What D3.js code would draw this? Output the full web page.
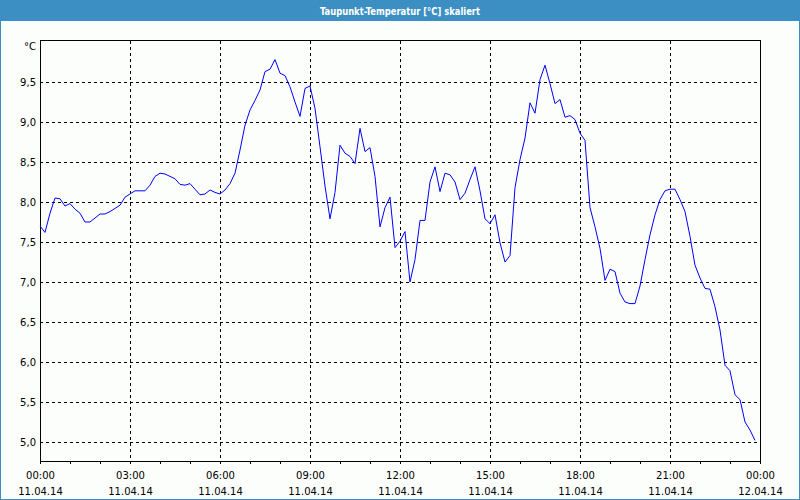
<!DOCTYPE html>
<html>
<head>
<meta charset="utf-8">
<script src="https://cdn.jsdelivr.net/npm/d3@7"></script>
<style>
  html, body { margin: 0; padding: 0; background: #fcfefc; }
  svg { display: block; }
</style>
</head>
<body>
<svg id="chart" width="800" height="500"></svg>
<script>
// ---- data ----
const chartTitle = "Taupunkt-Temperatur [°C] skaliert";
const unitLabel = "°C";
const startTime = "2014-04-11T00:00:00Z";
const stepMinutes = 10;
// dew point values, one every 10 minutes from 00:00 to 23:50
const dewPoint = [
  7.70, 7.62, 7.86, 8.05, 8.04, 7.95, 7.98, 7.91, 7.86, 7.75,
  7.75, 7.80, 7.85, 7.85, 7.88, 7.92, 7.96, 8.06, 8.10, 8.14,
  8.14, 8.14, 8.21, 8.32, 8.36, 8.35, 8.32, 8.29, 8.22, 8.21,
  8.23, 8.16, 8.09, 8.10, 8.15, 8.12, 8.10, 8.15, 8.23, 8.36,
  8.65, 8.96, 9.15, 9.27, 9.40, 9.63, 9.66, 9.78, 9.61, 9.58,
  9.44, 9.25, 9.07, 9.42, 9.45, 9.17, 8.69, 8.20, 7.79, 8.12,
  8.71, 8.61, 8.57, 8.48, 8.92, 8.63, 8.68, 8.32, 7.69, 7.93,
  8.06, 7.43, 7.51, 7.63, 7.00, 7.28, 7.77, 7.77, 8.25, 8.44,
  8.13, 8.36, 8.34, 8.25, 8.03, 8.11, 8.28, 8.44, 8.14, 7.79,
  7.73, 7.84, 7.49, 7.25, 7.33, 8.18, 8.53, 8.80, 9.24, 9.11,
  9.53, 9.71, 9.48, 9.23, 9.28, 9.06, 9.08, 9.03, 8.86, 8.77,
  7.93, 7.69, 7.42, 7.02, 7.16, 7.13, 6.86, 6.75, 6.73, 6.73,
  6.95, 7.28, 7.59, 7.84, 8.03, 8.14, 8.16, 8.16, 8.03, 7.88,
  7.57, 7.21, 7.05, 6.92, 6.91, 6.69, 6.40, 5.96, 5.89, 5.59,
  5.53, 5.25, 5.15, 5.02
];
const yTicks = [5.0, 5.5, 6.0, 6.5, 7.0, 7.5, 8.0, 8.5, 9.0, 9.5];
const xTickHours = [0, 3, 6, 9, 12, 15, 18, 21, 24];
const xTimeLabels = ["00:00", "03:00", "06:00", "09:00", "12:00", "15:00", "18:00", "21:00", "00:00"];
const xDateLabels = ["11.04.14", "11.04.14", "11.04.14", "11.04.14", "11.04.14", "11.04.14", "11.04.14", "11.04.14", "12.04.14"];

// ---- layout ----
const W = 800, H = 500;
const plot = { left: 40, right: 760, top: 41, bottom: 461 };
const font = "'DejaVu Sans', Verdana, sans-serif";

const svg = d3.select("#chart");
const t0 = new Date(startTime);
const t1 = d3.utcHour.offset(t0, 24);

const x = d3.scaleUtc().domain([t0, t1]).range([plot.left, plot.right]);
const y = d3.scaleLinear().domain([4.7625, 10.0125]).range([plot.bottom, plot.top]);

const data = dewPoint.map((v, i) => ({ t: d3.utcMinute.offset(t0, i * stepMinutes), v }));

// background
svg.append("rect").attr("x", 0).attr("y", 0).attr("width", W).attr("height", H).attr("fill", "#fcfefc");

// title bar
svg.append("rect").attr("x", 0).attr("y", 0).attr("width", W).attr("height", 21).attr("fill", "#3c8fc3");
const title = svg.append("text")
  .attr("x", 400).attr("y", 14.5)
  .attr("text-anchor", "middle")
  .attr("fill", "#ffffff")
  .attr("font-family", "'DejaVu Sans Condensed', 'Liberation Sans Narrow', 'DejaVu Sans', sans-serif")
  .attr("font-weight", "bold")
  .attr("font-size", "11px")
  .text(chartTitle);
const tl = title.node().getComputedTextLength();
if (Math.abs(tl - 160) > 6) title.attr("textLength", 160).attr("lengthAdjust", "spacingAndGlyphs");

// window border
svg.append("rect").attr("x", 0.5).attr("y", 0.5).attr("width", W - 1).attr("height", H - 1)
  .attr("fill", "none").attr("stroke", "#3c8fc3").attr("stroke-width", 1);

// grid
const grid = svg.append("g").attr("stroke", "#000").attr("stroke-width", 1).attr("stroke-dasharray", "3,3").attr("shape-rendering", "crispEdges");
grid.selectAll("line.h").data(yTicks).join("line")
  .attr("x1", plot.left).attr("x2", plot.right)
  .attr("y1", d => Math.round(y(d)) + 0.5).attr("y2", d => Math.round(y(d)) + 0.5);
grid.selectAll("line.v").data(xTickHours.slice(1, -1)).join("line")
  .attr("x1", d => Math.round(x(d3.utcHour.offset(t0, d))) + 0.5)
  .attr("x2", d => Math.round(x(d3.utcHour.offset(t0, d))) + 0.5)
  .attr("y1", plot.top).attr("y2", plot.bottom);

// plot frame
svg.append("rect")
  .attr("x", plot.left + 0.5).attr("y", plot.top - 0.5)
  .attr("width", plot.right - plot.left).attr("height", plot.bottom - plot.top + 0.5)
  .attr("fill", "none").attr("stroke", "#000").attr("stroke-width", 1).attr("shape-rendering", "crispEdges");

// x axis minor ticks (hourly)
const hourTicks = d3.range(0, 25);
svg.append("g").attr("stroke", "#000").attr("shape-rendering", "crispEdges")
  .selectAll("line").data(hourTicks).join("line")
  .attr("x1", d => Math.round(x(d3.utcHour.offset(t0, d))) + 0.5)
  .attr("x2", d => Math.round(x(d3.utcHour.offset(t0, d))) + 0.5)
  .attr("y1", plot.bottom).attr("y2", plot.bottom + 3);

// x labels
const xl = svg.append("g").attr("font-family", font).attr("font-size", "10px").attr("fill", "#000").attr("text-anchor", "middle");
xl.selectAll("text.time").data(xTickHours).join("text")
  .attr("x", d => x(d3.utcHour.offset(t0, d)) + 0.5).attr("y", 478.5)
  .text((d, i) => xTimeLabels[i]);
xl.selectAll("text.date").data(xTickHours).join("text")
  .attr("class", "date")
  .attr("x", d => x(d3.utcHour.offset(t0, d)) + 0.5).attr("y", 494.5)
  .text((d, i) => xDateLabels[i]);

// y labels
const yl = svg.append("g").attr("font-family", font).attr("font-size", "10px").attr("fill", "#000").attr("text-anchor", "end");
yl.selectAll("text").data(yTicks).join("text")
  .attr("x", 36).attr("y", d => y(d) + 4)
  .text(d => d3.format(".1f")(d).replace(".", ","));
svg.append("text").attr("x", 36).attr("y", 50).attr("text-anchor", "end")
  .attr("font-family", font).attr("font-size", "10px").attr("fill", "#000")
  .text(unitLabel);

// line
const line = d3.line().x(d => x(d.t)).y(d => y(d.v));
svg.append("path").datum(data)
  .attr("d", line)
  .attr("fill", "none").attr("stroke", "#0000ff").attr("stroke-width", 1);
</script>
</body>
</html>
